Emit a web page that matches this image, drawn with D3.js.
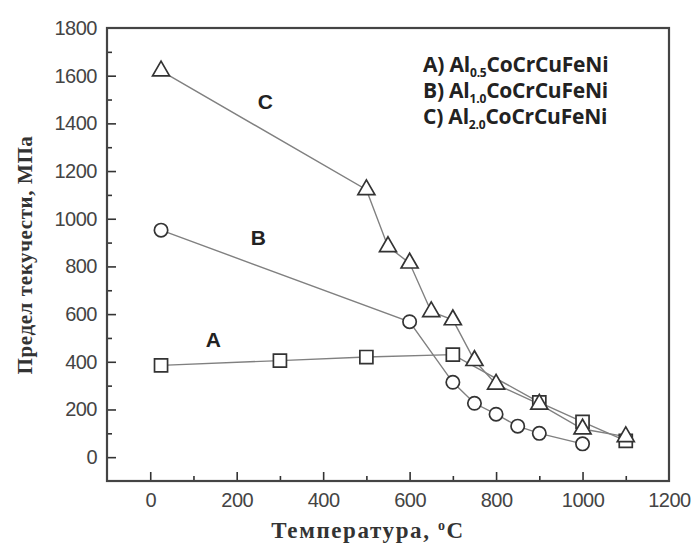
<!DOCTYPE html>
<html>
<head>
<meta charset="utf-8">
<script src="https://cdn.jsdelivr.net/npm/d3@7"></script>
<style>
  body { margin: 0; background: #fff; }
</style>
</head>
<body>
<div class="diagram"></div>
<script>
// data
const tempA = [25, 300, 500, 700, 900, 1000, 1100];
const yieldA = [385, 405, 420, 430, 230, 148, 68];
const tempB = [25, 600, 700, 750, 800, 850, 900, 1000];
const yieldB = [952, 568, 314, 226, 180, 130, 100, 56];
const tempC = [25, 500, 550, 600, 650, 700, 750, 800, 900, 1000, 1100];
const yieldC = [1620, 1122, 883, 814, 610, 576, 405, 306, 222, 118, 86];
const xTicks = [0, 200, 400, 600, 800, 1000, 1200];
const yTicks = [0, 200, 400, 600, 800, 1000, 1200, 1400, 1600, 1800];
const legendRows = [["A) Al", "0.5"], ["B) Al", "1.0"], ["C) Al", "2.0"]];

const margin = {top: 28, right: 25, bottom: 68, left: 107},
    width = 694 - margin.left - margin.right,
    height = 549 - margin.top - margin.bottom;

const svg = d3.select(".diagram")
  .append("svg")
    .attr("width", 694)
    .attr("height", 549)
  .append("g")
    .attr("transform", `translate(${margin.left}, ${margin.top})`);

const x = d3.scaleLinear().domain([-100, 1200]).range([0, width]);
const y = d3.scaleLinear().domain([-100, 1800]).range([height, 0]);

// minor ticks (inward)
svg.append("g")
  .attr("transform", `translate(0, ${height})`)
  .call(d3.axisTop(x).tickValues(d3.range(100, 1200, 200)).tickSize(5).tickFormat(""))
  .call(g => g.select(".domain").remove());
svg.append("g")
  .call(d3.axisRight(y).tickValues(d3.range(100, 1800, 200)).tickSize(5).tickFormat(""))
  .call(g => g.select(".domain").remove());

// major ticks (inward, labels outside)
const xAxis = svg.append("g")
  .attr("transform", `translate(0, ${height})`)
  .call(d3.axisBottom(x).tickValues(xTicks).tickSize(0).tickPadding(12).tickFormat(d3.format("d")));
xAxis.select(".domain").remove();
svg.append("g")
  .attr("transform", `translate(0, ${height})`)
  .call(d3.axisTop(x).tickValues(xTicks.slice(0, -1)).tickSize(9).tickFormat(""))
  .call(g => g.select(".domain").remove());

const yAxis = svg.append("g")
  .call(d3.axisLeft(y).tickValues(yTicks).tickSize(0).tickPadding(10).tickFormat(d3.format("d")));
yAxis.select(".domain").remove();
svg.append("g")
  .call(d3.axisRight(y).tickValues(yTicks.slice(0, -1)).tickSize(9).tickFormat(""))
  .call(g => g.select(".domain").remove());

svg.selectAll(".tick line").attr("stroke", "#333").attr("stroke-width", 1.6);
svg.selectAll(".tick text")
  .attr("fill", "#444")
  .style("font-family", "Liberation Sans, Arial, sans-serif")
  .style("font-size", "20px")
  .style("letter-spacing", "-0.5px");

// frame
svg.append("rect")
  .attr("width", width)
  .attr("height", height)
  .attr("fill", "none")
  .attr("stroke", "#444")
  .attr("stroke-width", 2.2);

// lines
const series = [
  {t: tempA, v: yieldA, shape: d3.symbolSquare, size: 170},
  {t: tempB, v: yieldB, shape: d3.symbolCircle, size: 140},
  {t: tempC, v: yieldC, shape: d3.symbolTriangle, size: 125}
];

const line = d3.line()
  .x(d => x(d[0]))
  .y(d => y(d[1]));

series.forEach(s => {
  s.pts = s.t.map((t, i) => [t, s.v[i]]);
  svg.append("path")
    .datum(s.pts)
    .attr("fill", "none")
    .attr("stroke", "#808080")
    .attr("stroke-width", 1.4)
    .attr("d", line);
});

series.forEach(s => {
  svg.append("g").selectAll("path")
    .data(s.pts)
    .join("path")
      .attr("transform", d => `translate(${x(d[0])}, ${y(d[1])})`)
      .attr("d", d3.symbol().type(s.shape).size(s.size))
      .attr("fill", "#fff")
      .attr("stroke", "#333")
      .attr("stroke-width", 1.7);
});

// series letters
const letters = [["C", 266, 1460], ["B", 250, 890], ["A", 146, 460]];
svg.selectAll(".letter")
  .data(letters)
  .join("text")
    .attr("x", d => x(d[1]))
    .attr("y", d => y(d[2]))
    .attr("text-anchor", "middle")
    .style("font-family", "Liberation Sans, Arial, sans-serif")
    .style("font-weight", "bold")
    .style("font-size", "21px")
    .attr("fill", "#222")
    .text(d => d[0]);

// legend
const legend = svg.append("g")
  .attr("transform", `translate(${423 - margin.left}, ${72 - margin.top})`);
legendRows.forEach((r, i) => {
  const t = legend.append("text")
    .attr("y", i * 26)
    .style("font-family", "'Open Sans', sans-serif")
    .style("font-weight", "bold")
    .style("font-size", "21px")
    .style("letter-spacing", "-0.2px")
    .attr("fill", "#222");
  t.append("tspan").text(r[0]);
  t.append("tspan").attr("dy", 5).style("font-size", "12px").text(r[1]);
  t.append("tspan").attr("dy", -5).text("CoCrCuFeNi");
});

// axis titles
const xt = svg.append("text")
  .attr("x", 368 - margin.left)
  .attr("y", 538 - margin.top)
  .attr("text-anchor", "middle")
  .style("font-family", "Liberation Serif, 'Times New Roman', serif")
  .style("font-weight", "bold")
  .style("font-size", "23px")
  .style("letter-spacing", "1.6px")
  .attr("fill", "#333");
xt.append("tspan").text("Температура, ");
xt.append("tspan").attr("dy", -8).style("font-size", "14px").text("o");
xt.append("tspan").attr("dy", 8).text("C");

svg.append("text")
  .attr("transform", `translate(${32 - margin.left}, ${255 - margin.top}) rotate(-90)`)
  .attr("text-anchor", "middle")
  .style("font-family", "Liberation Serif, 'Times New Roman', serif")
  .style("font-weight", "bold")
  .style("font-size", "21px")
  .style("letter-spacing", "0.6px")
  .attr("fill", "#333")
  .text("Предел текучести, МПа");
</script>
</body>
</html>
